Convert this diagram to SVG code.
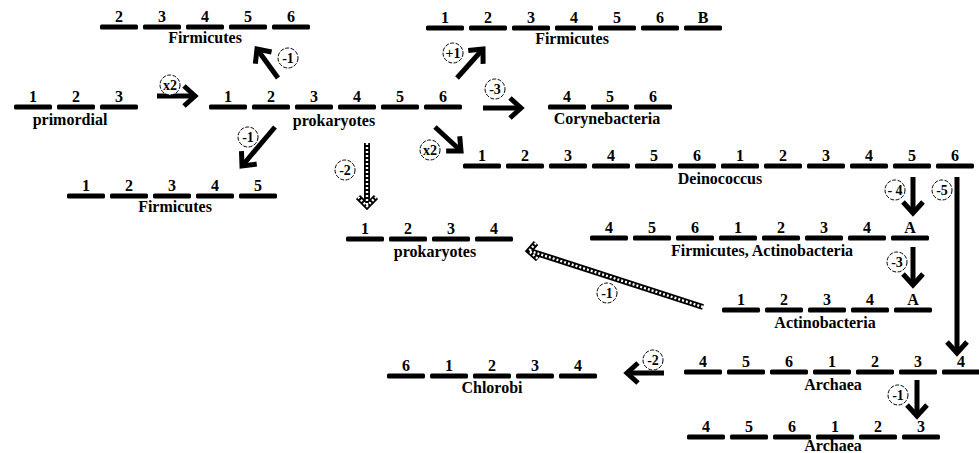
<svg xmlns="http://www.w3.org/2000/svg" width="979" height="453" viewBox="0 0 979 453" font-family="Liberation Serif, DejaVu Serif, serif" font-weight="bold">
  <defs>
    <style>
      text { font-family: "Liberation Serif", "DejaVu Serif", serif; font-weight: 700; fill: #000; text-anchor: middle; }
      .num { font-size: 16px; }
      .lbl { font-size: 16px; }
      .bar { fill: #000; }
      .arrow { stroke: #000; stroke-width: 5; fill: none; marker-end: url(#head); }
      .chain { stroke: #000; stroke-width: 6; fill: none; }
      .chainIn { stroke: #fff; stroke-width: 2.4; stroke-dasharray: 2 2; fill: none; }
      .tag circle { fill: #fff; stroke: #000; stroke-width: 1; stroke-dasharray: 4 1.5; }
      .tag text { font-size: 14px; }
    </style>
    <marker id="head" markerUnits="userSpaceOnUse" viewBox="-16 -14 20 28" refX="0" refY="0" markerWidth="20" markerHeight="28" orient="auto">
      <path d="M-11,-10 L0,0 L-11,10" stroke="#000" stroke-width="5" fill="none"/>
    </marker>
    <!-- one gene segment: a thick bar 38 wide -->
    <rect id="seg" x="0" y="-2.5" width="38" height="5" rx="1.5"/>
  </defs>

  <!-- primordial: 1 2 3 -->
  <g id="primordial">
    <use href="#seg" class="bar" x="14" y="107"/><use href="#seg" class="bar" x="57" y="107"/><use href="#seg" class="bar" x="100" y="107"/>
    <text class="num" x="33" y="102">1</text><text class="num" x="76" y="102">2</text><text class="num" x="119" y="102">3</text>
    <text class="lbl" x="70" y="125">primordial</text>
  </g>

  <!-- Firmicutes (loss of 1) -->
  <g id="firmicutes-top-left">
    <use href="#seg" class="bar" x="100" y="27"/><use href="#seg" class="bar" x="143" y="27"/><use href="#seg" class="bar" x="186" y="27"/><use href="#seg" class="bar" x="229" y="27"/><use href="#seg" class="bar" x="272" y="27"/>
    <text class="num" x="119" y="22">2</text><text class="num" x="162" y="22">3</text><text class="num" x="205" y="22">4</text><text class="num" x="248" y="22">5</text><text class="num" x="291" y="22">6</text>
    <text class="lbl" x="205" y="43">Firmicutes</text>
  </g>

  <!-- prokaryotes: 1..6 -->
  <g id="prokaryotes">
    <use href="#seg" class="bar" x="209" y="107"/><use href="#seg" class="bar" x="252" y="107"/><use href="#seg" class="bar" x="295" y="107"/><use href="#seg" class="bar" x="338" y="107"/><use href="#seg" class="bar" x="381" y="107"/><use href="#seg" class="bar" x="424" y="107"/>
    <text class="num" x="228" y="102">1</text><text class="num" x="271" y="102">2</text><text class="num" x="314" y="102">3</text><text class="num" x="357" y="102">4</text><text class="num" x="400" y="102">5</text><text class="num" x="443" y="102">6</text>
    <text class="lbl" x="334" y="126">prokaryotes</text>
  </g>

  <!-- Firmicutes (gain of B) -->
  <g id="firmicutes-top-right">
    <use href="#seg" class="bar" x="426" y="28"/><use href="#seg" class="bar" x="469" y="28"/><use href="#seg" class="bar" x="512" y="28"/><use href="#seg" class="bar" x="555" y="28"/><use href="#seg" class="bar" x="598" y="28"/><use href="#seg" class="bar" x="641" y="28"/><use href="#seg" class="bar" x="684" y="28"/>
    <text class="num" x="445" y="23">1</text><text class="num" x="488" y="23">2</text><text class="num" x="531" y="23">3</text><text class="num" x="574" y="23">4</text><text class="num" x="617" y="23">5</text><text class="num" x="660" y="23">6</text><text class="num" x="703" y="23">B</text>
    <text class="lbl" x="572" y="44">Firmicutes</text>
  </g>

  <!-- Corynebacteria: 4 5 6 -->
  <g id="corynebacteria">
    <use href="#seg" class="bar" x="548" y="107"/><use href="#seg" class="bar" x="591" y="107"/><use href="#seg" class="bar" x="634" y="107"/>
    <text class="num" x="567" y="102">4</text><text class="num" x="610" y="102">5</text><text class="num" x="653" y="102">6</text>
    <text class="lbl" x="607" y="124">Corynebacteria</text>
  </g>

  <!-- Firmicutes: 1..5 -->
  <g id="firmicutes-left">
    <use href="#seg" class="bar" x="67" y="196"/><use href="#seg" class="bar" x="110" y="196"/><use href="#seg" class="bar" x="153" y="196"/><use href="#seg" class="bar" x="196" y="196"/><use href="#seg" class="bar" x="239" y="196"/>
    <text class="num" x="86" y="191">1</text><text class="num" x="129" y="191">2</text><text class="num" x="172" y="191">3</text><text class="num" x="215" y="191">4</text><text class="num" x="258" y="191">5</text>
    <text class="lbl" x="175" y="212">Firmicutes</text>
  </g>

  <!-- Deinococcus: duplicated 1..6 1..6 -->
  <g id="deinococcus">
    <use href="#seg" class="bar" x="463" y="166"/><use href="#seg" class="bar" x="506" y="166"/><use href="#seg" class="bar" x="549" y="166"/><use href="#seg" class="bar" x="592" y="166"/><use href="#seg" class="bar" x="635" y="166"/><use href="#seg" class="bar" x="678" y="166"/>
    <use href="#seg" class="bar" x="721" y="166"/><use href="#seg" class="bar" x="764" y="166"/><use href="#seg" class="bar" x="807" y="166"/><use href="#seg" class="bar" x="850" y="166"/><use href="#seg" class="bar" x="893" y="166"/><use href="#seg" class="bar" x="936" y="166"/>
    <text class="num" x="482" y="161">1</text><text class="num" x="525" y="161">2</text><text class="num" x="568" y="161">3</text><text class="num" x="611" y="161">4</text><text class="num" x="654" y="161">5</text><text class="num" x="697" y="161">6</text>
    <text class="num" x="740" y="161">1</text><text class="num" x="783" y="161">2</text><text class="num" x="826" y="161">3</text><text class="num" x="869" y="161">4</text><text class="num" x="912" y="161">5</text><text class="num" x="955" y="161">6</text>
    <text class="lbl" x="720" y="184">Deinococcus</text>
  </g>

  <!-- prokaryotes: 1..4 -->
  <g id="prokaryotes-short">
    <use href="#seg" class="bar" x="346" y="239"/><use href="#seg" class="bar" x="389" y="239"/><use href="#seg" class="bar" x="432" y="239"/><use href="#seg" class="bar" x="475" y="239"/>
    <text class="num" x="365" y="234">1</text><text class="num" x="408" y="234">2</text><text class="num" x="451" y="234">3</text><text class="num" x="494" y="234">4</text>
    <text class="lbl" x="435" y="257">prokaryotes</text>
  </g>

  <!-- Firmicutes, Actinobacteria -->
  <g id="firmicutes-actinobacteria">
    <use href="#seg" class="bar" x="590" y="238"/><use href="#seg" class="bar" x="633" y="238"/><use href="#seg" class="bar" x="676" y="238"/><use href="#seg" class="bar" x="719" y="238"/><use href="#seg" class="bar" x="762" y="238"/><use href="#seg" class="bar" x="805" y="238"/><use href="#seg" class="bar" x="848" y="238"/><use href="#seg" class="bar" x="891" y="238"/>
    <text class="num" x="609" y="233">4</text><text class="num" x="652" y="233">5</text><text class="num" x="695" y="233">6</text><text class="num" x="738" y="233">1</text><text class="num" x="781" y="233">2</text><text class="num" x="824" y="233">3</text><text class="num" x="867" y="233">4</text><text class="num" x="910" y="233">A</text>
    <text class="lbl" x="762" y="256">Firmicutes, Actinobacteria</text>
  </g>

  <!-- Actinobacteria -->
  <g id="actinobacteria">
    <use href="#seg" class="bar" x="722" y="310"/><use href="#seg" class="bar" x="765" y="310"/><use href="#seg" class="bar" x="808" y="310"/><use href="#seg" class="bar" x="851" y="310"/><use href="#seg" class="bar" x="894" y="310"/>
    <text class="num" x="741" y="305">1</text><text class="num" x="784" y="305">2</text><text class="num" x="827" y="305">3</text><text class="num" x="870" y="305">4</text><text class="num" x="913" y="305">A</text>
    <text class="lbl" x="825" y="328">Actinobacteria</text>
  </g>

  <!-- Archaea -->
  <g id="archaea">
    <use href="#seg" class="bar" x="684" y="372"/><use href="#seg" class="bar" x="727" y="372"/><use href="#seg" class="bar" x="770" y="372"/><use href="#seg" class="bar" x="813" y="372"/><use href="#seg" class="bar" x="856" y="372"/><use href="#seg" class="bar" x="899" y="372"/><use href="#seg" class="bar" x="942" y="372"/>
    <text class="num" x="703" y="367">4</text><text class="num" x="746" y="367">5</text><text class="num" x="789" y="367">6</text><text class="num" x="832" y="367">1</text><text class="num" x="875" y="367">2</text><text class="num" x="918" y="367">3</text><text class="num" x="961" y="367">4</text>
    <text class="lbl" x="833" y="390">Archaea</text>
  </g>

  <!-- Archaea (loss of 1) -->
  <g id="archaea-short">
    <use href="#seg" class="bar" x="687" y="437"/><use href="#seg" class="bar" x="730" y="437"/><use href="#seg" class="bar" x="773" y="437"/><use href="#seg" class="bar" x="816" y="437"/><use href="#seg" class="bar" x="859" y="437"/><use href="#seg" class="bar" x="902" y="437"/>
    <text class="num" x="706" y="432">4</text><text class="num" x="749" y="432">5</text><text class="num" x="792" y="432">6</text><text class="num" x="835" y="432">1</text><text class="num" x="878" y="432">2</text><text class="num" x="921" y="432">3</text>
    <text class="lbl" x="833" y="451">Archaea</text>
  </g>

  <!-- Chlorobi -->
  <g id="chlorobi">
    <use href="#seg" class="bar" x="387" y="376"/><use href="#seg" class="bar" x="430" y="376"/><use href="#seg" class="bar" x="473" y="376"/><use href="#seg" class="bar" x="516" y="376"/><use href="#seg" class="bar" x="559" y="376"/>
    <text class="num" x="406" y="371">6</text><text class="num" x="449" y="371">1</text><text class="num" x="492" y="371">2</text><text class="num" x="535" y="371">3</text><text class="num" x="578" y="371">4</text>
    <text class="lbl" x="492" y="393">Chlorobi</text>
  </g>

  <!-- connectors -->
  <g id="connectors">
    <line class="arrow" x1="278" y1="78" x2="257" y2="49"/>
    <line class="arrow" x1="157" y1="96" x2="195" y2="96"/>
    <line class="arrow" x1="275" y1="127" x2="242" y2="166"/>
    <line class="arrow" x1="457" y1="78" x2="483" y2="49"/>
    <line class="arrow" x1="483" y1="108" x2="521" y2="108"/>
    <line class="arrow" x1="435" y1="127" x2="461" y2="151"/>
    <line class="arrow" x1="913" y1="177" x2="913" y2="213"/>
    <line class="arrow" x1="957" y1="177" x2="957" y2="353"/>
    <line class="arrow" x1="913" y1="247" x2="913" y2="285"/>
    <line class="arrow" x1="664" y1="373" x2="627" y2="373"/>
    <line class="arrow" x1="917" y1="380" x2="917" y2="416"/>

    <!-- chain-style arrows -->
    <path class="chain" d="M367,143 V205 M358,197 L367,206 L376,197"/>
    <path class="chainIn" d="M367,143 V205 M358,197 L367,206 L376,197"/>
    <path class="chain" d="M703,307 L530,251 M536,243 L529,251 L538,259"/>
    <path class="chainIn" d="M703,307 L530,251 M536,243 L529,251 L538,259"/>

    <!-- operation tags -->
    <g class="tag"><circle cx="288" cy="58" r="10"/><text x="288" y="63">-1</text></g>
    <g class="tag"><circle cx="170" cy="85" r="10"/><text x="170" y="90">x2</text></g>
    <g class="tag"><circle cx="248" cy="137" r="10"/><text x="248" y="142">-1</text></g>
    <g class="tag"><circle cx="453" cy="53" r="10"/><text x="453" y="58">+1</text></g>
    <g class="tag"><circle cx="495" cy="89" r="10"/><text x="495" y="94">-3</text></g>
    <g class="tag"><circle cx="430" cy="150" r="10"/><text x="430" y="155">x2</text></g>
    <g class="tag"><circle cx="345" cy="170" r="10"/><text x="345" y="175">-2</text></g>
    <g class="tag"><circle cx="895" cy="190" r="10"/><text x="895" y="195">- 4</text></g>
    <g class="tag"><circle cx="942" cy="190" r="10"/><text x="942" y="195">-5</text></g>
    <g class="tag"><circle cx="897" cy="262" r="10"/><text x="897" y="267">-3</text></g>
    <g class="tag"><circle cx="607" cy="293" r="10"/><text x="607" y="298">-1</text></g>
    <g class="tag"><circle cx="653" cy="360" r="10"/><text x="653" y="365">-2</text></g>
    <g class="tag"><circle cx="898" cy="395" r="10"/><text x="898" y="400">-1</text></g>
  </g>
</svg>
